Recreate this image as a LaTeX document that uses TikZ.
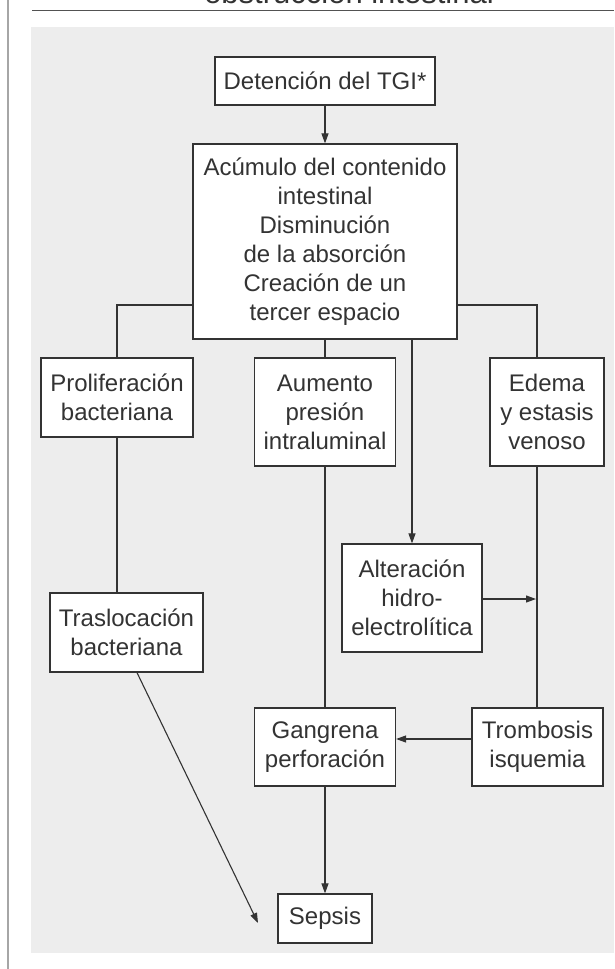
\documentclass[tikz,border=0pt]{standalone}
\usepackage{fontspec}
\setmainfont{Liberation Sans}
\usetikzlibrary{arrows.meta}
\definecolor{bgc}{HTML}{EDEDED}
\definecolor{ink}{HTML}{333333}
\begin{document}
\begin{tikzpicture}[x=1pt,y=-1pt,
 box/.style={draw=ink,line width=1.2pt,fill=white,align=center,inner sep=0pt,text=ink,font=\fontsize{24}{29}\selectfont},
 conn/.style={draw=ink,line width=1.1pt},
 arr/.style={conn,-{Triangle[length=10pt,width=7pt]}}]
\clip (0,0) rectangle (614,969);
\fill[bgc] (31,27) rectangle (614,953);
\draw[gray!70,line width=1.2pt] (8,0) -- (8,969);
\draw[ink!85,line width=1.4pt] (32,10.5) -- (614,10.5);
\node[anchor=base,inner sep=0pt,font=\fontsize{31}{36}\selectfont,text=ink] (title) at (349,3.5) {obstrucción intestinal};

\node[box,minimum width=220pt,minimum height=48pt] (det) at (325,81) {Detención del TGI*};
\node[box,minimum width=264pt,minimum height=195pt] (acu) at (325,241.5) {Acúmulo del contenido\\intestinal\\Disminución\\de la absorción\\Creación de un\\tercer espacio};
\node[box,minimum width=152pt,minimum height=79pt] (pro) at (117,397.5) {Proliferación\\bacteriana};
\node[box,minimum width=141pt,minimum height=108pt] (aum) at (325,412) {Aumento\\presión\\intraluminal};
\node[box,minimum width=114pt,minimum height=108pt] (ede) at (547,412) {Edema\\y estasis\\venoso};
\node[box,minimum width=140pt,minimum height=108pt] (alt) at (412,598) {Alteración\\hidro-\\electrolítica};
\node[box,minimum width=153pt,minimum height=79pt] (tra) at (126.5,632.5) {Traslocación\\bacteriana};
\node[box,minimum width=141pt,minimum height=78pt] (gan) at (325,747) {Gangrena\\perforación};
\node[box,minimum width=131pt,minimum height=78pt] (tro) at (537.5,747) {Trombosis\\isquemia};
\node[box,minimum width=94pt,minimum height=49pt] (sep) at (325,918.5) {Sepsis};

\coordinate (lb) at (117,305);
\coordinate (rb) at (537,305);
\coordinate (am) at (536,599);
\coordinate (ty) at (0,739);
\coordinate (tx) at (137,0);
\coordinate (sx) at (258,923);

\draw[arr] (det) -- (acu);
\draw[conn] (acu.west |- lb) -- (lb) -- (pro.north -| lb);
\draw[conn] (acu.east |- rb) -- (rb) -- (ede.north -| rb);
\draw[conn] (acu.south) -- (aum.north);
\draw[arr] (acu.south -| alt.north) -- (alt.north);
\draw[conn] (pro.south) -- (pro.south |- tra.north);
\draw[conn] (aum.south) -- (gan.north);
\draw[conn] (ede.south -| rb) -- (tro.north -| rb);
\draw[arr] (alt.east |- am) -- (am);
\draw[arr] (tro.west |- ty) -- (gan.east |- ty);
\draw[arr] (gan.south) -- (sep.north);
\draw[arr] (tra.south -| tx) -- (sx);
\end{tikzpicture}
\end{document}
